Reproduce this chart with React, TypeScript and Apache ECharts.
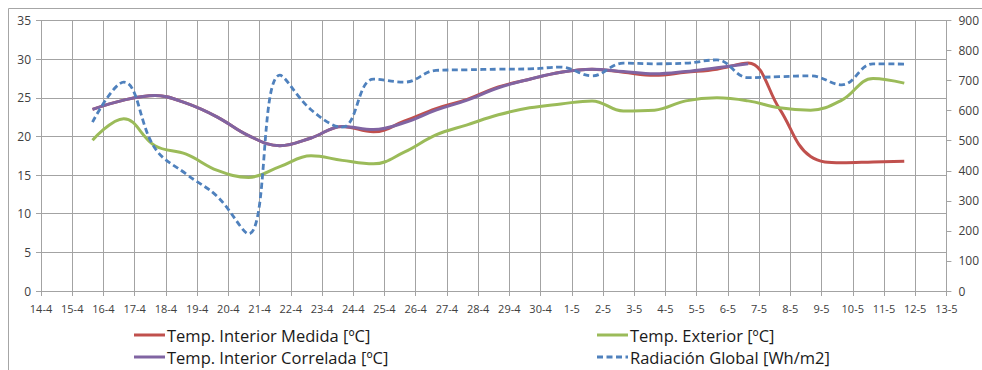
import React, { useEffect, useRef } from "react";
import * as echarts from "echarts";

// Axis tick labels (one per day gridline)
const tickLabels = [
  "14-4", "15-4", "16-4", "17-4", "18-4", "19-4", "20-4", "21-4", "22-4", "23-4",
  "24-4", "25-4", "26-4", "27-4", "28-4", "29-4", "30-4", "1-5", "2-5", "3-5",
  "4-5", "5-5", "6-5", "7-5", "8-5", "9-5", "10-5", "11-5", "12-5", "13-5",
];

// Sample days (each measured at the same time of day)
const sampleDays = [
  "15-4", "16-4", "17-4", "18-4", "19-4", "20-4", "21-4", "22-4", "23-4", "24-4",
  "25-4", "26-4", "27-4", "28-4", "29-4", "30-4", "1-5", "2-5", "3-5", "4-5",
  "5-5", "6-5", "7-5", "8-5", "9-5", "10-5", "11-5",
];
const sampleTimeOfDay = 0.65; // fraction of the day

const tempInteriorMedida = [
  23.5, 24.7, 25.3, 24.3, 22.5, 20.1, 18.8, 19.8, 21.3, 20.6,
  22.0, 23.6, 24.8, 26.4, 27.4, 28.3, 28.7, 28.3, 27.9, 28.3,
  28.7, 29.5, 23.6, 17.4, 16.6, 16.7, 16.8,
];
const tempExterior = [
  19.5, 22.3, 18.8, 17.7, 15.6, 14.7, 16.1, 17.5, 16.9, 16.45,
  18.0, 20.2, 21.5, 22.8, 23.7, 24.2, 24.6, 23.3, 23.4, 24.6,
  25.0, 24.6, 23.7, 23.4, 24.7, 27.5, 26.9,
];
const tempInteriorCorrelada = [
  23.5, 24.7, 25.3, 24.3, 22.5, 20.1, 18.8, 19.8, 21.3, 20.9,
  21.8, 23.4, 24.7, 26.3, 27.4, 28.3, 28.7, 28.4, 28.1, 28.4,
  28.9, 29.4,
];
const radiacionGlobal = [
  562, 695, 475, 389, 314, 190, 718, 603, 545, 705,
  695, 734, 736, 738, 739, 745, 716, 758, 756, 758,
  769, 710, 713, 716, 686, 756, 755,
];

const leftTicks = { min: 0, max: 35, interval: 5 };
const rightTicks = { min: 0, max: 900, interval: 100 };

const names = [
  "Temp. Interior Medida [ºC]",
  "Temp. Exterior [ºC]",
  "Temp. Interior Correlada [ºC]",
  "Radiación Global [Wh/m2]",
];
const colors = ["#C0504D", "#9BBB59", "#8064A2", "#4F81BD"];
const dashes: (number[] | null)[] = [null, null, null, [6, 3.5]];

function toPoints(values: number[]) {
  return values.map((v, i) => [tickLabels.indexOf(sampleDays[i]) + sampleTimeOfDay, v]);
}

export default function App() {
  const ref = useRef<HTMLDivElement>(null);
  useEffect(() => {
    if (!ref.current) return;
    const chart = echarts.init(ref.current, undefined, { renderer: "svg" });
    const font = "'Open Sans', 'Noto Sans', sans-serif";
    const grid = "#a3a3a3";
    const axisLabel = { color: "#404040", fontSize: 11, fontFamily: font };

    // legend laid out as 2 columns x 2 rows: [0,1] on row 1, [2,3] on row 2
    const legendCols = [134, 597];
    const legendRows = [335, 357];
    const legendItems: any[] = [];
    names.forEach((name, i) => {
      const x = legendCols[i % 2];
      const y = legendRows[Math.floor(i / 2)];
      legendItems.push({
        type: "line",
        shape: { x1: x, y1: y, x2: x + 31, y2: y },
        style: { stroke: colors[i], lineWidth: 3, lineDash: dashes[i] || undefined },
      });
      legendItems.push({
        type: "text",
        x: x + 33,
        y: y,
        style: {
          text: name,
          fill: "#1a1a1a",
          font: `16.5px ${font}`,
          textVerticalAlign: "middle",
          verticalAlign: "middle",
        },
      });
    });

    const mkSeries = (i: number, values: number[], yAxisIndex = 0) => ({
      name: names[i],
      type: "line",
      yAxisIndex,
      data: toPoints(values),
      smooth: 0.4,
      symbol: "none",
      color: colors[i],
      lineStyle: { color: colors[i], width: dashes[i] ? 2.8 : 3, type: dashes[i] || "solid" },
    });

    chart.setOption({
      animation: false,
      backgroundColor: "#ffffff",
      grid: { left: 41, right: 35.5, top: 20.5, bottom: 79, containLabel: false },
      graphic: [
        { type: "line", shape: { x1: 8.5, y1: 8.5, x2: 982, y2: 8.5 }, style: { stroke: "#a6a6a6", lineWidth: 1 } },
        { type: "line", shape: { x1: 8.5, y1: 8.5, x2: 8.5, y2: 370 }, style: { stroke: "#a6a6a6", lineWidth: 1 } },
        ...legendItems,
      ],
      xAxis: {
        type: "value",
        min: 0,
        max: tickLabels.length - 1,
        interval: 1,
        axisLine: { lineStyle: { color: grid } },
        axisTick: { show: true, length: 5, lineStyle: { color: grid } },
        splitLine: { show: true, lineStyle: { color: grid, width: 1 } },
        axisLabel: { ...axisLabel, margin: 12, formatter: (v: number) => tickLabels[Math.round(v)] ?? "" },
      },
      yAxis: [
        {
          type: "value",
          ...leftTicks,
          axisLine: { show: true, lineStyle: { color: grid } },
          axisTick: { show: true, length: 5, lineStyle: { color: grid } },
          splitLine: { show: true, lineStyle: { color: grid, width: 1 } },
          axisLabel: { ...axisLabel, fontSize: 12, margin: 10 },
        },
        {
          type: "value",
          ...rightTicks,
          position: "right",
          axisLine: { show: true, lineStyle: { color: grid } },
          axisTick: { show: true, length: 5, lineStyle: { color: grid } },
          splitLine: { show: false },
          axisLabel: { ...axisLabel, fontSize: 12, margin: 12 },
        },
      ],
      series: [
        mkSeries(0, tempInteriorMedida),
        mkSeries(1, tempExterior),
        mkSeries(2, tempInteriorCorrelada),
        mkSeries(3, radiacionGlobal, 1),
      ],
    });
    return () => chart.dispose();
  }, []);
  return (
    <div
      ref={ref}
      style={{ position: "fixed", left: 0, top: 0, width: 982, height: 370, background: "#fff" }}
    />
  );
}
